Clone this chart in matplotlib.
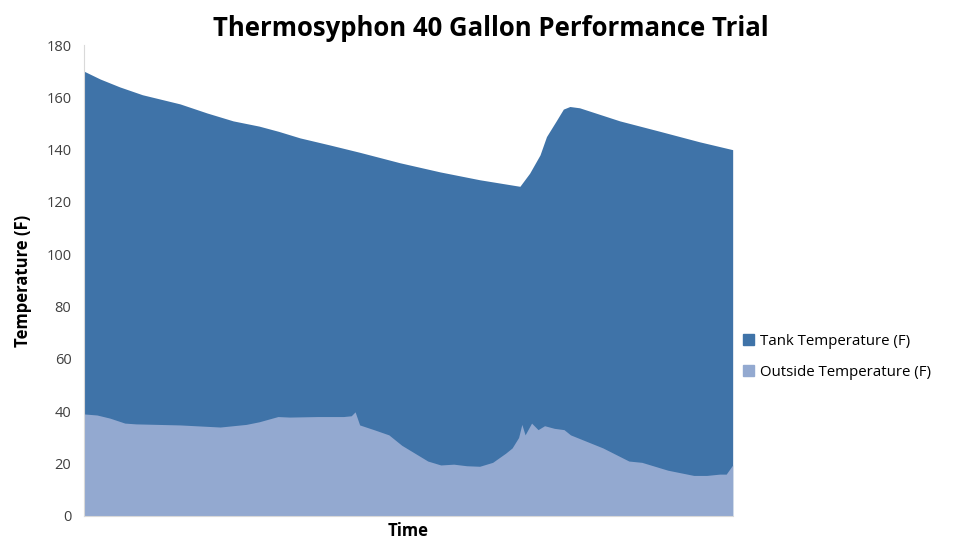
import matplotlib.pyplot as plt
from matplotlib.patches import Patch

# time axis in arbitrary units (0 = start, 100 = end of trial)
tank_t = [0, 2.5, 5.5, 9, 14.8, 19, 23, 27, 30, 33.3, 37.9, 42.5, 48.7, 54.9, 61, 67.2,
          68.7, 70.3, 71.3, 72.8, 73.9, 74.9, 76.4, 82.6, 88.8, 94.9, 100]
tank_temp = [170, 167, 164, 161, 157.5, 154, 151, 149, 147, 144.5, 141.8, 139, 135, 131.5, 128.5, 126,
             131, 138, 145, 151, 155.5, 156.5, 156, 151, 147, 143, 140]

out_t = [0, 2, 4, 6.3, 8, 14.8, 21, 25, 27, 29.9, 31.7, 36, 40, 41.2, 41.8, 42.5, 44.8, 47, 49, 51, 53,
         55, 57, 59, 61, 63, 65, 66, 67, 67.5, 68, 69, 70, 71, 72.5, 74, 75, 77, 80, 82, 84,
         86, 88, 90, 92, 94, 96, 98, 99, 100]
out_temp = [39, 38.6, 37.4, 35.5, 35.2, 34.8, 34, 35, 36, 38, 37.8, 38, 38, 38.3, 39.8, 34.8, 32.9,
            31, 27, 24, 21, 19.5, 19.8, 19.2, 19, 20.5, 24, 26, 30, 35, 31, 35.5, 33, 34.5, 33.5,
            33, 31, 29, 26, 23.5, 21, 20.5, 19, 17.5, 16.5, 15.5, 15.5, 16, 16, 19.5]

tank_color = "#3f73a8"
out_color = "#93a9d0"

plt.rcParams['font.family'] = ['Open Sans', 'DejaVu Sans']

fig = plt.figure(figsize=(9.54, 5.39), dpi=100)
ax = fig.add_axes([0.088, 0.0427, 0.68, 0.8738])

ax.fill_between(tank_t, 0, tank_temp, color=tank_color, linewidth=0)
ax.fill_between(out_t, 0, out_temp, color=out_color, linewidth=0)

ax.set_xlim(0, 100)
ax.set_ylim(0, 180)
ax.set_yticks(range(0, 181, 20))
ax.set_xticks([])
ax.tick_params(axis='y', length=0, labelsize=10.5, labelcolor="#404040", pad=9)

for s in ["top", "right"]:
    ax.spines[s].set_visible(False)
ax.spines["left"].set_color("#d9d9d9")
ax.spines["bottom"].set_color("#d9d9d9")

ax.set_ylabel("Temperature (F)", fontsize=12, fontweight="bold", labelpad=10)
ax.set_xlabel("Time", fontsize=12, fontweight="bold", labelpad=4)
fig.text(0.514, 0.948, "Thermosyphon 40 Gallon Performance Trial", ha="center", va="center",
         fontsize=18.5, fontweight="bold")

handles = [Patch(color=tank_color, label="Tank Temperature (F)"),
           Patch(color=out_color, label="Outside Temperature (F)")]
fig.legend(handles=handles, loc="center left", bbox_to_anchor=(0.765, 0.338), frameon=False,
           fontsize=10.8, handlelength=0.7, handleheight=0.7, handletextpad=0.4, labelspacing=1.05)

fig.savefig("out.png", dpi=100)
